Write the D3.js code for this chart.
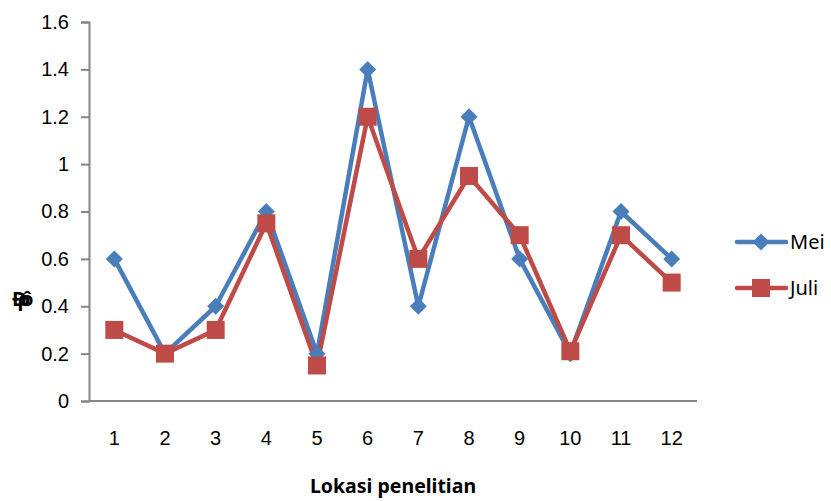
<!DOCTYPE html>
<html>
<head>
<meta charset="utf-8">
<script src="https://cdn.jsdelivr.net/npm/d3@7"></script>
<style>
  html, body { margin: 0; padding: 0; background: #fff; }
  svg { display: block; font-family: "Noto Sans", "Open Sans", sans-serif; }
</style>
</head>
<body>
<svg id="chart" width="831" height="501"></svg>
<script>
// Sampling locations and measured values per month
const locations = ["1", "2", "3", "4", "5", "6", "7", "8", "9", "10", "11", "12"];
const meiValues = [0.6, 0.2, 0.4, 0.8, 0.2, 1.4, 0.4, 1.2, 0.6, 0.2, 0.8, 0.6];
const juliValues = [0.3, 0.2, 0.3, 0.75, 0.15, 1.2, 0.6, 0.95, 0.7, 0.21, 0.7, 0.5];
const yTicks = [0, 0.2, 0.4, 0.6, 0.8, 1, 1.2, 1.4, 1.6];
const seriesNames = ["Mei", "Juli"];

const series = [
  { name: seriesNames[0], values: meiValues, color: "#4a7ebb", shape: "diamond" },
  { name: seriesNames[1], values: juliValues, color: "#be4b48", shape: "square" }
];

const svg = d3.select("#chart");
const plot = { left: 89, right: 697, top: 22, bottom: 401 };

const x = d3.scaleBand().domain(locations).range([plot.left, plot.right]);
const y = d3.scaleLinear().domain([0, 1.6]).range([plot.bottom, plot.top]);

const axisColor = "#868686";
const fontSize = "20px";

// Y axis
const yAxis = svg.append("g")
  .attr("transform", `translate(${plot.left},0)`)
  .call(d3.axisLeft(y).tickValues(yTicks).tickSize(8).tickPadding(12)
    .tickFormat(d => d3.format("")(+d.toFixed(1))));
yAxis.select(".domain").attr("stroke", axisColor).attr("stroke-width", 2);
yAxis.selectAll(".tick line").attr("stroke", axisColor).attr("stroke-width", 2);
yAxis.selectAll(".tick text").attr("fill", "#000").style("font-size", fontSize);

// X axis
const xAxis = svg.append("g")
  .attr("transform", `translate(0,${plot.bottom})`)
  .call(d3.axisBottom(x).tickSize(0).tickPadding(30));
xAxis.select(".domain").attr("stroke", axisColor).attr("stroke-width", 2).attr("d", `M${plot.left},0H${plot.right}`);
xAxis.selectAll(".tick text").attr("fill", "#000").style("font-size", fontSize);

// Axis titles
svg.append("text")
  .attr("x", 393).attr("y", 493)
  .attr("text-anchor", "middle")
  .style("font-size", "19.5px").style("font-weight", "bold")
  .text("Lokasi penelitian");

// Vertical title, collapsed into one clump of overlapping glyphs
svg.append("text")
  .attr("x", 12).attr("y", 306)
  .style("font-size", "20px").style("font-weight", "bold")
  .style("letter-spacing", "-9px")
  .text("Đρô");

const cx = (d, i) => x(locations[i]) + x.bandwidth() / 2;

const diamond = s => `M0,${-s}L${s},0L0,${s}L${-s},0Z`;
const square = s => `M${-s},${-s}H${s}V${s}H${-s}Z`;

series.forEach(s => {
  const line = d3.line().x((d, i) => cx(d, i)).y(d => y(d));
  svg.append("path")
    .datum(s.values)
    .attr("fill", "none")
    .attr("stroke", s.color)
    .attr("stroke-width", 4.5)
    .attr("stroke-linejoin", "round")
    .attr("d", line);
});

series.forEach(s => {
  svg.append("g").selectAll("path")
    .data(s.values)
    .join("path")
    .attr("transform", (d, i) => `translate(${cx(d, i)},${y(d)})`)
    .attr("d", s.shape === "diamond" ? diamond(8.5) : square(9))
    .attr("fill", s.color);
});

// Legend
const legend = svg.append("g");
series.forEach((s, i) => {
  const ly = 242 + i * 46;
  legend.append("line")
    .attr("x1", 737).attr("x2", 786).attr("y1", ly).attr("y2", ly)
    .attr("stroke", s.color).attr("stroke-width", 4.5).attr("stroke-linecap", "round");
  legend.append("path")
    .attr("transform", `translate(761,${ly})`)
    .attr("d", s.shape === "diamond" ? diamond(8.5) : square(9))
    .attr("fill", s.color);
  legend.append("text")
    .attr("x", 790).attr("y", ly + 7)
    .style("font-size", fontSize)
    .text(s.name);
});
</script>
</body>
</html>
